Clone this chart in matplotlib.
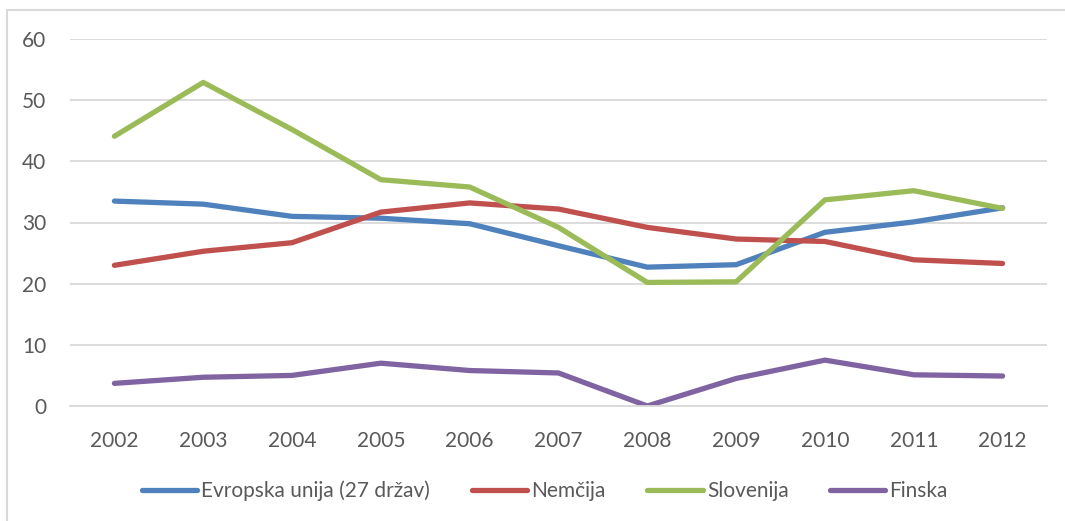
import matplotlib
matplotlib.use("Agg")
import matplotlib.pyplot as plt
from matplotlib.patches import Rectangle

years = ["2002", "2003", "2004", "2005", "2006", "2007", "2008", "2009", "2010", "2011", "2012"]
eu = [33.5, 33.0, 31.0, 30.7, 29.8, 26.2, 22.7, 23.1, 28.4, 30.1, 32.4]
nemcija = [23.0, 25.3, 26.7, 31.7, 33.2, 32.2, 29.2, 27.3, 26.9, 23.9, 23.3]
slovenija = [44.1, 52.9, 45.2, 37.0, 35.8, 29.2, 20.2, 20.3, 33.7, 35.2, 32.3]
finska = [3.7, 4.7, 5.0, 7.0, 5.8, 5.4, 0.0, 4.5, 7.5, 5.1, 4.9]
labels = ["Evropska unija (27 držav)", "Nemčija", "Slovenija", "Finska"]
colors = ["#4F81BD", "#C0504D", "#9BBB59", "#8064A2"]
yticks = [0, 10, 20, 30, 40, 50, 60]

plt.rcParams['font.family'] = ['Lato', 'DejaVu Sans']
W, H = 1065, 521
fig = plt.figure(figsize=(W / 100, H / 100), dpi=100)
fig.patches.append(Rectangle((7 / W, -0.1), 1.2, 1.1 - 10 / H, transform=fig.transFigure,
                             fill=False, edgecolor="#D9D9D9", linewidth=1.5))
ax = fig.add_axes([70 / W, 1 - 406 / H, (1047 - 70) / W, (406 - 39) / H])

x = range(len(years))
for data, lab, c in zip([eu, nemcija, slovenija, finska], labels, colors):
    ax.plot(x, data, color=c, lw=3.8, label=lab, solid_capstyle="round", solid_joinstyle="round")

ax.set_xlim(-0.5, len(years) - 0.5)
ax.set_ylim(0, 60)
ax.set_yticks(yticks)
ax.set_xticks(list(x))
ax.set_xticklabels(years)
ax.grid(axis="y", color="#D9D9D9", lw=1.3)
ax.set_axisbelow(True)
for s in ["top", "right", "left"]:
    ax.spines[s].set_visible(False)
ax.spines["bottom"].set_color("#D9D9D9")
ax.spines["bottom"].set_linewidth(1.3)
ax.tick_params(axis="both", length=0, labelsize=15, labelcolor="#595959")
ax.tick_params(axis="y", pad=17)
ax.tick_params(axis="x", pad=18)

leg = fig.legend(loc="center", bbox_to_anchor=(545 / W, 1 - 491 / H), ncol=4, frameon=False,
                 fontsize=15, handlelength=2.65, handletextpad=0.2, columnspacing=2.0)
for t in leg.get_texts():
    t.set_color("#595959")

fig.savefig("out.png", dpi=100)
